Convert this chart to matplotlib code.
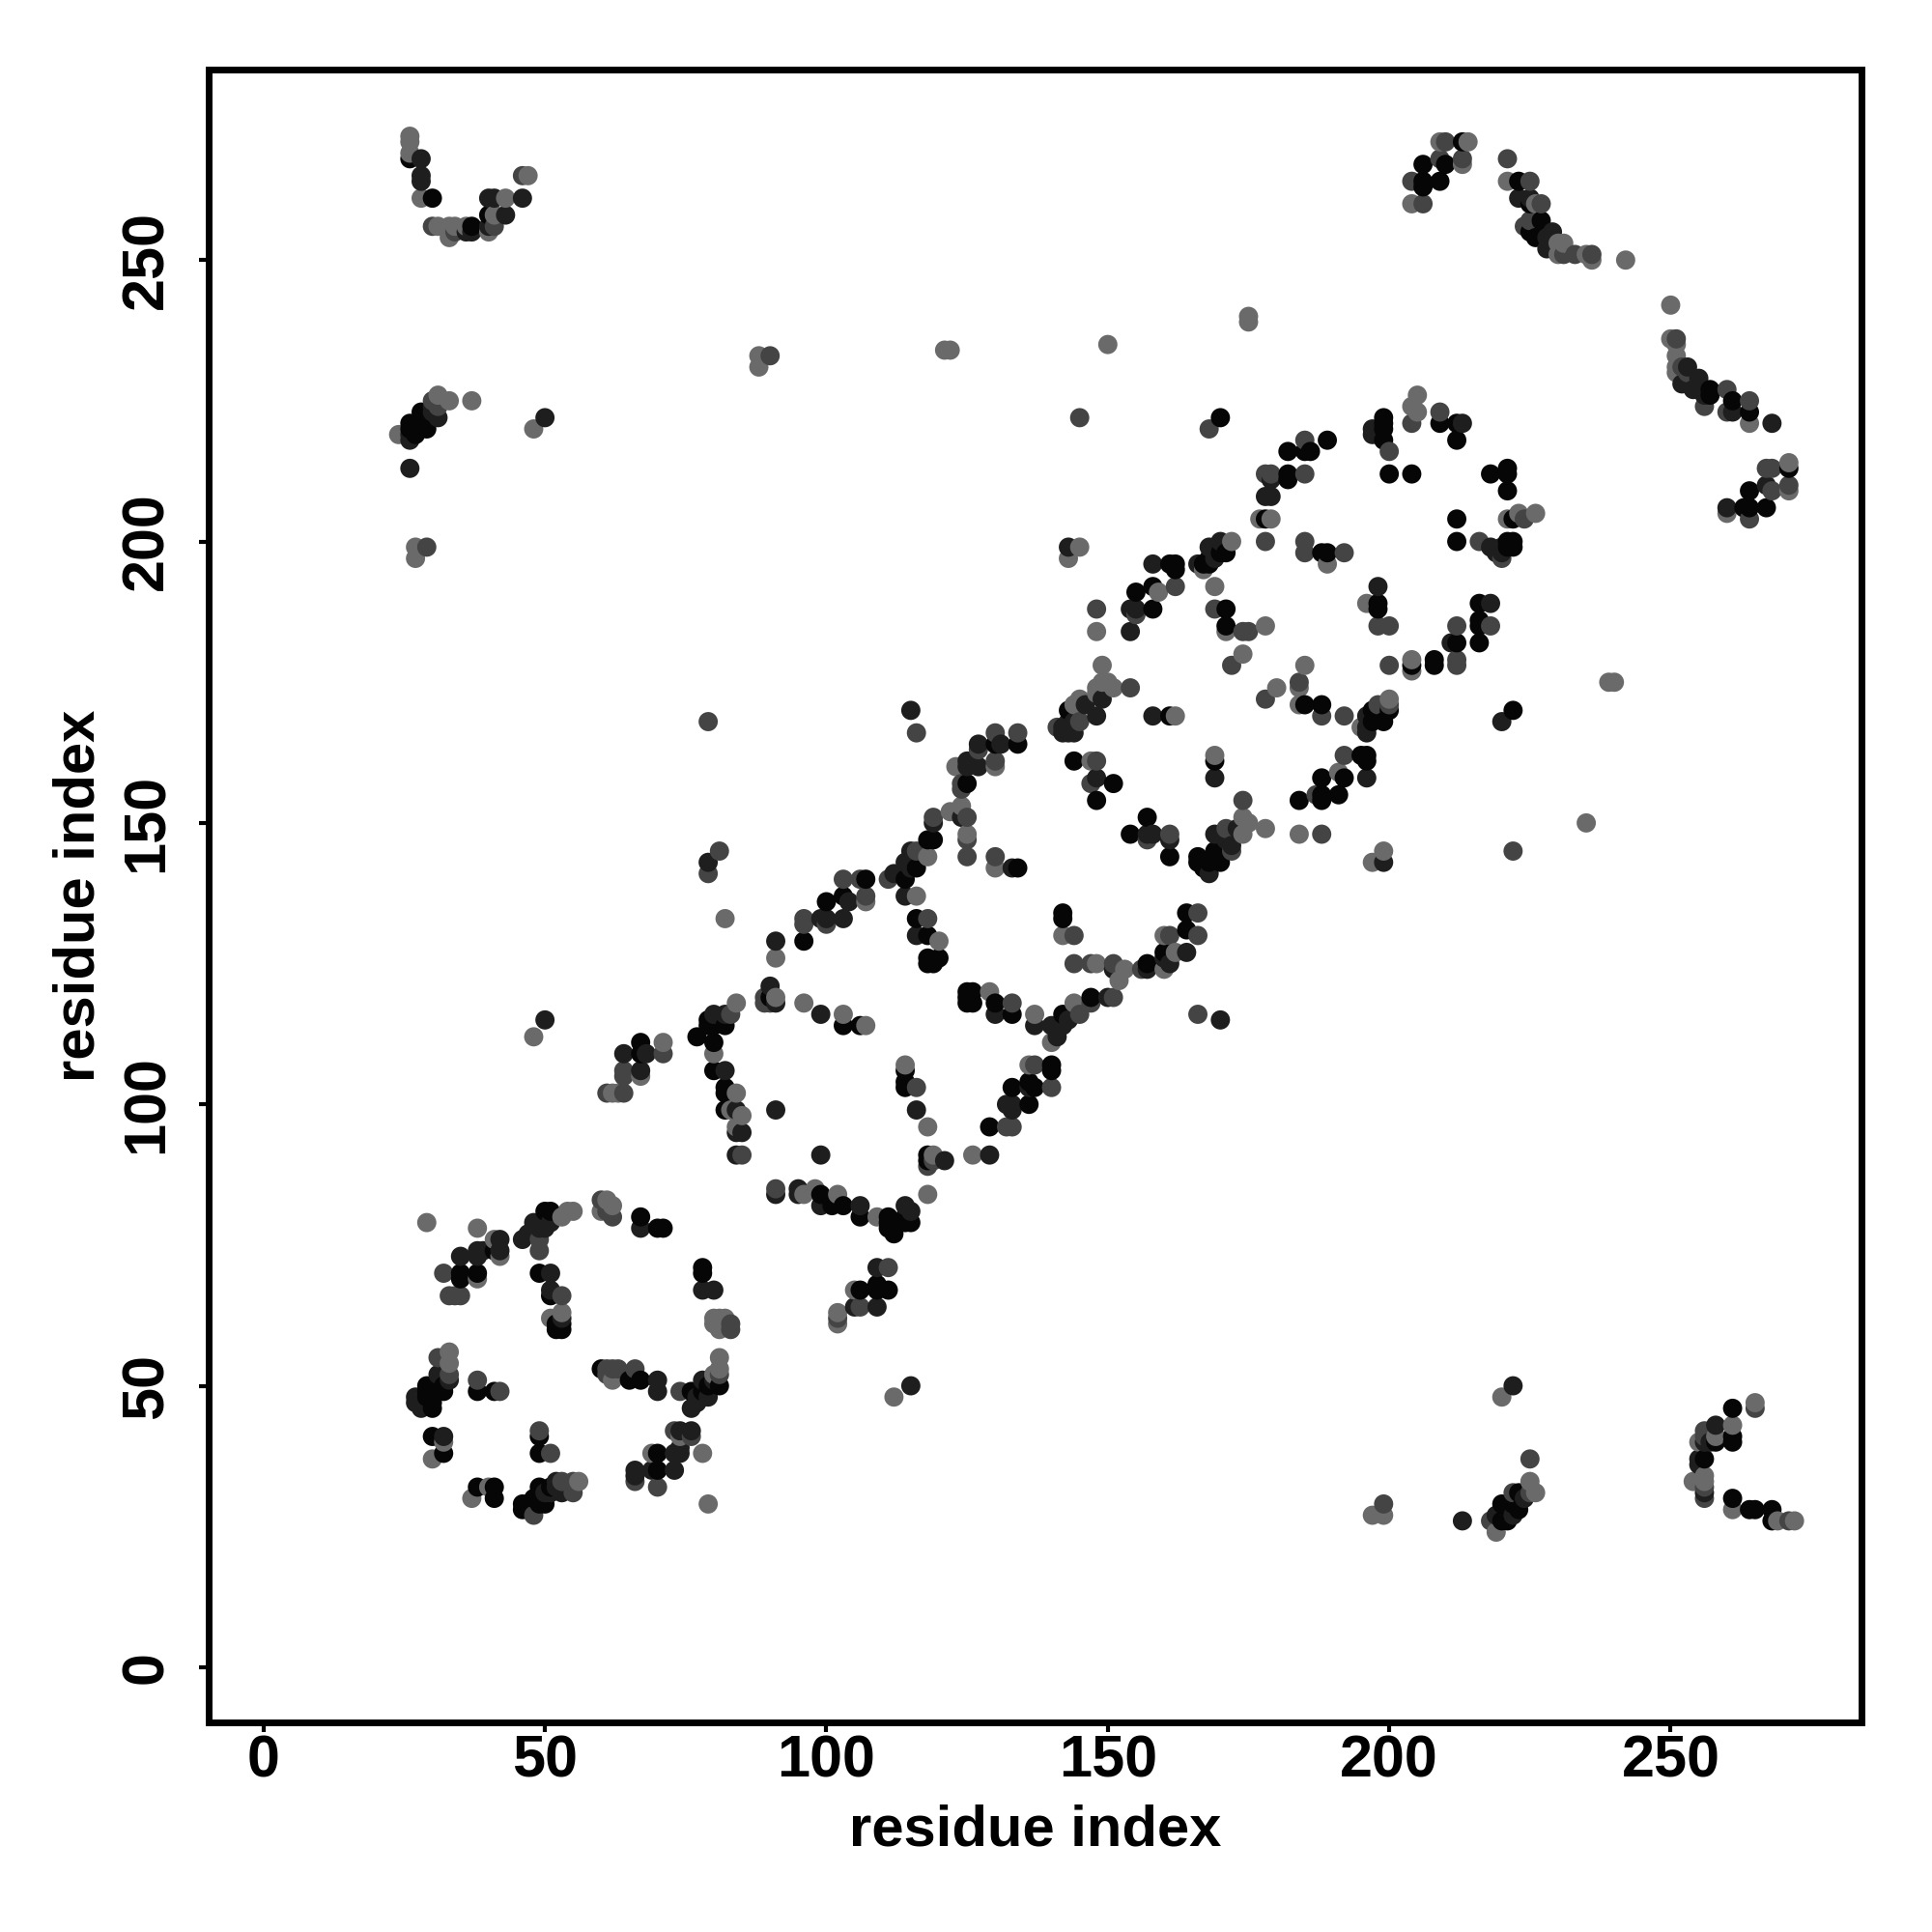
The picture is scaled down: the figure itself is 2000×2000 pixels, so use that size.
import numpy as np
import matplotlib
matplotlib.use('Agg')
import matplotlib.pyplot as plt

plt.rcParams['font.family'] = ['Liberation Sans', 'DejaVu Sans']
plt.rcParams['font.weight'] = 'bold'

# contacts, grouped by how dark the dot is
black_pts = [
    (26,268),(26,221),(26,220),(27,220),(27,219),(28,223),(28,221),(29,220),(29,221),(37,256),(40,258),(30,261),
    (35,69),(35,70),(38,70),(49,70),(51,66),(53,60),(52,60),(53,61),(52,61),(67,80),(70,78),(71,78),(78,71),(78,70),
    (29,50),(29,49),(29,48),(30,46),(30,49),(30,50),(30,47),(32,49),(32,50),(38,49),(41,49),(30,41),(32,38),(49,41),
    (49,38),(38,32),(41,32),(41,30),(46,29),(46,28),(47,29),(47,28),(48,30),(49,29),(50,29),(49,31),(49,32),(51,32),
    (67,109),(67,111),(41,74),(50,81),(51,81),(70,38),(70,35),(76,49),(79,50),(78,49),(67,51),(65,51),(60,53),(81,50),
    (106,67),(109,68),(111,67),(109,67),(79,115),(82,114),(80,114),(79,114),(77,112),(80,111),(80,106),(82,103),(82,102),
    (82,99),(118,90),(114,103),(114,104),(114,106),(129,96),(136,100),(133,103),(137,103),(136,104),(140,106),(140,107),
    (96,129),(100,136),(103,137),(107,140),(114,140),(116,142),(119,147),(118,147),(116,133),(118,130),(118,126),(118,125),
    (120,126),(119,125),(134,142),(125,157),(130,164),(134,164),(90,119),(103,114),(106,114),(125,120),(126,120),(125,119),
    (125,118),(126,118),(130,118),(133,116),(142,116),(147,119),(157,125),(160,127),(164,134),(164,131),(142,134),(142,133),
    (143,170),(144,161),(151,157),(148,154),(161,169),(157,151),(154,148),(161,144),(169,161),(184,154),(188,158),(192,158),
    (191,155),(188,155),(188,154),(166,144),(166,143),(167,142),(168,143),(169,145),(170,143),
    (99,84),(101,82),(103,82),(106,80),(111,80),(111,79),(111,78),(112,77),(114,79),(114,80),(115,79),(118,91),
    (206,267),(210,267),(213,271),(206,264),(206,263),(209,264),(223,264),(225,260),(227,257),(226,254),(225,255),
    (264,223),(257,227),(257,226),(261,225),(271,213),(264,209),(267,206),(264,206),(263,206),(170,222),(209,221),(212,221),
    (212,218),(199,222),(199,221),(199,220),(199,218),(200,212),(204,212),(218,212),(221,213),(221,212),(221,209),(222,204),
    (212,204),(212,200),(221,200),(222,200),(221,199),(222,199),(189,218),(182,216),(185,216),(186,216),(182,212),(182,211),
    (178,204),(188,198),(189,198),(198,189),(198,188),(216,189),(216,186),(216,185),(212,182),(216,182),(204,178),(208,179),
    (208,178),(222,170),(161,196),(162,196),(162,195),(158,192),(155,191),(158,188),(171,188),(171,185),(185,171),(188,171),
    (197,170),(197,168),(200,170),(199,168),(195,162),(196,162),(196,161),(223,31),(222,29),(223,28),(220,29),(221,28),
    (221,26),(220,26),(221,27),(261,46),(258,40),(261,41),(261,40),(256,37),(261,30),(268,28),(268,26),(264,28),(265,28),
    (170,198),(171,198),(168,197),(168,196),(167,196),
]
dark_pts = [
    (28,268),(28,265),(28,264),(36,255),(37,255),(40,256),(40,261),(41,261),(43,258),(46,261),(50,222),(26,213),(26,218),
    (26,219),(30,223),(31,222),(30,224),(35,73),(38,74),(39,74),(38,73),(42,76),(42,74),(48,79),(49,78),(50,78),(50,80),
    (51,79),(51,70),(51,67),(53,62),(67,78),(78,67),(80,67),(70,51),(70,49),(78,51),(78,48),(79,48),(77,48),(77,47),(76,46),
    (80,51),(31,52),(33,51),(27,48),(27,47),(28,46),(28,48),(28,47),(32,41),(46,76),(47,77),(51,31),(52,32),(52,33),(50,31),
    (53,31),(66,35),(66,34),(69,35),(73,35),(73,38),(74,38),(74,39),(74,42),(76,42),(50,115),(115,50),(64,109),(67,106),
    (68,109),(105,64),(109,64),(109,71),(82,116),(80,116),(82,106),(84,95),(85,95),(84,91),(84,99),(91,99),(99,91),(91,84),
    (95,85),(95,84),(99,82),(106,82),(114,82),(115,81),(121,90),(116,99),(129,91),
    (133,99),(132,100),(133,100),(136,103),(91,129),(99,133),(100,133),(103,133),(104,136),(112,141),(114,137),(115,142),
    (115,145),(114,143),(119,150),(124,151),(116,130),(125,161),(125,160),(127,160),(127,164),(131,164),(115,170),
    (79,143),(90,121),(91,118),(99,116),(130,116),(137,114),(140,114),(141,112),(142,114),(143,115),(150,119),
    (151,124),(157,124),(160,126),(161,125),(164,127),(170,115),(142,166),(143,166),(144,166),(143,168),(149,172),(148,158),
    (158,169),(157,148),(158,148),(161,147),(169,158),(168,141),(171,147),(170,148),(169,148),(172,146),(173,149),(146,171),
    (148,169),(144,168),(144,166),(142,167),(228,254),(228,252),(229,255),(229,252),(223,261),(225,261),(252,228),
    (254,227),(255,229),(255,227),(256,226),(253,231),(261,223),(268,221),(267,210),(260,206),(213,221),(197,219),(198,219),
    (218,199),(219,198),(220,199),(220,198),(179,211),(178,208),(179,208),(198,192),(218,189),(211,182),(196,169),
    (196,167),(196,166),(158,196),(154,188),(155,188),(154,184),(196,158),(143,199),(220,168),(199,143),(222,50),(213,26),
    (219,27),(224,30),(222,27),(258,43),(256,40),(257,40),(256,31),(255,37),(255,36),(197,220),
    (170,200),(169,199),(168,199),(169,197),(166,196),(133,142),
]
mid_pts = [
    (30,256),(34,255),(41,256),(46,265),(30,225),(31,224),(29,199),(32,70),(33,66),(34,66),(35,66),(49,76),(49,74),(53,66),
    (60,83),(62,80),(61,81),(66,53),(61,53),(62,53),(63,53),(61,52),(74,49),(81,52),(31,55),(33,52),(38,51),(42,49),(49,42),
    (51,38),(48,27),(53,33),(55,31),(55,33),(66,33),(70,32),(73,42),(76,41),(83,60),(83,61),(61,102),(64,102),(64,105),(64,106),
    (71,109),(102,62),(106,64),(111,71),(83,116),(85,91),(116,103),(118,89),(119,90),(132,96),
    (133,96),(137,107),(140,103),(96,132),(96,133),(100,132),(107,137),(106,140),(103,140),(111,140),(116,145),(119,151),
    (125,151),(125,147),(125,144),(118,133),(130,144),(124,157),(124,156),(130,166),(127,163),(134,166),(130,161),(79,168),
    (116,166),(81,145),(79,141),(89,119),(89,118),(90,118),(133,118),(145,116),(147,118),(151,119),(151,125),(147,125),
    (144,125),(156,124),(161,130),(166,134),(166,130),(144,130),(166,116),(141,167),(145,168),(154,174),
    (148,161),(147,157),(157,147),(161,148),(174,154),(188,148),(187,155),(192,162),(171,149),(172,145),
    (221,268),(209,268),(204,264),(210,271),(213,268),(206,260),(225,264),(227,260),(224,256),(225,257),
    (231,251),(233,251),(236,251),(251,236),(252,231),(253,230),(256,224),(260,227),(260,223),(264,225),(267,213),(268,213),
    (271,210),(268,209),(264,204),(145,222),(168,220),(204,221),(209,223),(200,216),(224,204),(216,200),
    (220,197),(185,218),(185,212),(178,212),(179,212),(178,200),(185,200),(185,198),(192,198),(198,185),(200,185),(218,185),
    (212,185),(212,179),(212,178),(200,178),(162,192),(155,187),(148,188),(169,188),(174,184),(175,184),(172,178),
    (178,172),(184,175),(188,169),(192,169),(198,171),(200,171),(222,145),(90,233),(225,37),(225,31),(222,31),
    (218,26),(265,46),(256,41),(256,42),(256,32),(256,30),(271,26),(199,29),(91,85),
]
light_pts = [
    (26,272),(26,271),(26,269),(28,261),(31,256),(33,256),(34,256),(33,254),(33,255),(36,256),(40,255),(41,258),(43,261),
    (47,265),(31,226),(33,225),(37,225),(48,220),(24,219),(27,199),(27,197),(29,79),(38,78),(48,112),(79,29),(78,38),(112,48),
    (38,69),(41,76),(42,73),(54,81),(55,81),(53,80),(51,62),(53,63),(61,83),(62,82),(60,81),(80,62),(81,62),(82,62),(80,61),
    (82,61),(81,60),(81,55),(81,53),(80,52),(62,51),(33,56),(33,54),(32,40),(30,37),(40,32),(37,30),(56,33),(69,38),(74,41),
    (62,102),(63,102),(67,105),(71,111),(102,63),(102,61),(105,67),(84,118),(80,109),(84,102),(83,99),(85,98),(84,96),(91,126),
    (96,118),(103,116),(107,114),(96,84),(98,85),(102,84),(109,80),(118,84),(119,91),(118,96),(114,107),(126,91),(136,107),
    (107,136),(116,137),(118,144),(122,152),(124,153),(125,148),(120,129),(130,142),(123,160),(130,160),(82,133),(91,119),
    (129,120),(137,116),(140,111),(144,118),(152,122),(153,124),(148,125),(160,124),(160,130),(162,127),
    (142,130),(145,172),(148,173),(151,174),(149,175),(147,161),(162,169),(169,162),(174,151),(175,150),
    (178,149),(184,148),(191,159),(174,148),(209,271),(214,271),(213,267),(204,260),(221,264),(226,260),(230,253),(231,253),
    (230,251),(235,251),(236,250),(242,250),(250,242),(250,236),(251,235),(251,233),(251,231),(251,230),(264,221),(271,214),
    (271,209),(260,205),(150,235),(175,240),(175,239),(205,226),(204,224),(205,223),(196,189),(204,179),(204,177),(221,204),
    (223,205),(226,205),(177,204),(179,204),(189,196),(159,191),(148,184),(149,178),(149,175),(150,175),(148,174),
    (144,171),(143,197),(145,199),(169,192),(171,184),(178,185),(174,180),(185,178),(180,174),(184,174),(184,171),(195,167),
    (200,172),(239,175),(240,175),(235,150),(199,145),(197,143),(88,231),(88,233),(121,234),(122,234),(197,27),
    (199,27),(220,48),(225,33),(226,31),(219,24),(265,47),(261,43),(258,41),(255,40),(256,34),(256,33),(254,33),(261,28),
    (269,26),(272,26),(172,200),(167,195),
]
dot_greys = {'black': '#060606', 'dark': '#1e1e1e', 'mid': '#444444', 'light': '#6a6a6a'}
tick_vals = [0, 50, 100, 150, 200, 250]

seen = {}
for name, pts in [('light', light_pts), ('mid', mid_pts), ('dark', dark_pts), ('black', black_pts)]:
    for p in pts:
        seen[p] = dot_greys[name]

# later residues sit on top of earlier ones in the original
order = sorted(seen)
xs = np.array([p[0] for p in order])
ys = np.array([p[1] for p in order])
cols = [seen[p] for p in order]

fig = plt.figure(figsize=(20, 20), dpi=100)
ax = fig.add_axes([216/2000, 217/2000, 1711/2000, 1711/2000])
ax.scatter(xs, ys, s=205, c=cols, linewidths=0)

ax.set_xlim(-9.75, 283.9)
ax.set_ylim(-9.8, 283.85)
ax.set_xticks(tick_vals)
ax.set_yticks(tick_vals)
ax.tick_params(axis='both', length=7, width=3, labelsize=44)
ax.tick_params(axis='x', pad=2)
ax.tick_params(axis='y', pad=18)
for lab in ax.get_yticklabels():
    lab.set_rotation(90)
    lab.set_va('center')
for side in ax.spines.values():
    side.set_linewidth(5)

ax.set_xlabel('residue index', fontsize=43, fontweight='bold', va='center')
ax.set_ylabel('residue index', fontsize=43, fontweight='bold', va='center')
ax.xaxis.set_label_coords(0.536, 0.0525, transform=fig.transFigure)
ax.yaxis.set_label_coords(0.041, 0.5365, transform=fig.transFigure)

fig.savefig('out.png', dpi=100, facecolor='white')
